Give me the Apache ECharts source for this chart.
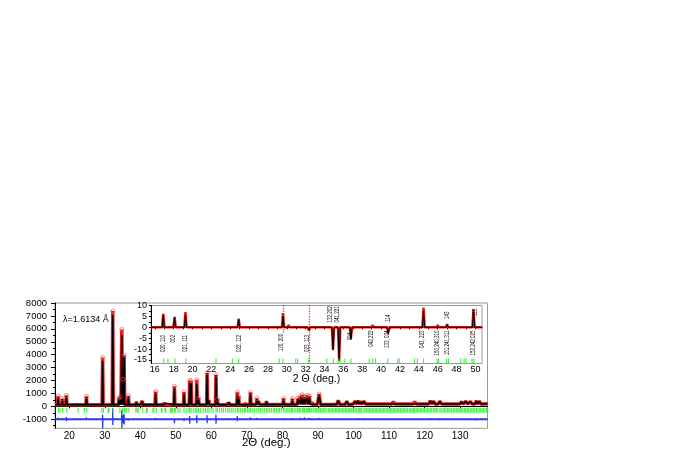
<!DOCTYPE html>
<html>
<head>
<meta charset="utf-8">
<title>rietveld</title>
<style>
  html, body { margin: 0; padding: 0; background: #fff; }
  #container { width: 699px; height: 459px; }
</style>
</head>
<body>
<div id="container"></div>
<script src="https://cdn.jsdelivr.net/npm/echarts@6.0.0/dist/echarts.min.js"></script>
<script type="text/javascript">
// ---- main pattern ----
// [2theta, I calc, I obs]
var mainPeaks = [
  [16.85, 700, 800], [17.4, 200, 230], [18.05, 560, 600], [19.2, 790, 850],
  [22.5, 160, 180], [24.85, 740, 780], [29.4, 3500, 3780], [31.0, 180, 200],
  [32.25, 7050, 7380], [34.0, 600, 650], [34.4, 700, 750], [34.8, 5500, 5950],
  [35.1, 2000, 2100], [35.45, 3850, 3950], [36.65, 780, 820], [38.9, 330, 380],
  [40.6, 380, 420], [44.3, 1060, 1150], [45.6, 200, 220], [46.6, 250, 280],
  [47.1, 250, 270], [49.6, 1460, 1550], [52.3, 1020, 1100], [53.9, 1950, 2000],
  [54.3, 1800, 1950], [55.9, 1700, 2050], [56.4, 600, 650], [58.8, 2550, 2600],
  [59.3, 450, 500], [61.3, 2400, 2450], [61.7, 500, 550], [64.6, 250, 300],
  [65.0, 300, 330], [67.3, 1000, 1080], [67.7, 700, 750], [69.6, 250, 280],
  [71.0, 1030, 1080], [72.8, 580, 620], [73.3, 400, 430], [75.5, 380, 420],
  [78.3, 280, 300], [80.3, 580, 620], [82.8, 560, 600], [84.3, 580, 620],
  [85.0, 720, 760], [85.6, 850, 900], [86.2, 700, 750], [87.0, 800, 850],
  [87.6, 750, 800], [88.3, 300, 330], [90.3, 900, 950], [92.9, 250, 270],
  [95.7, 430, 460], [98.1, 380, 400], [99.6, 250, 280], [100.4, 380, 400],
  [101.3, 420, 450], [101.9, 350, 380], [102.9, 380, 400], [106.5, 260, 280],
  [108.4, 280, 300], [111.2, 330, 350], [114.0, 240, 260], [115.7, 250, 270],
  [117.2, 330, 350], [121.6, 400, 430], [122.5, 380, 400], [124.3, 380, 400],
  [125.2, 300, 320], [128.1, 300, 320], [130.4, 340, 360], [131.6, 380, 400],
  [132.9, 350, 370], [134.6, 400, 420], [135.4, 380, 400]
];
var mainBackground = [[16, 120], [40, 120], [70, 150], [100, 180], [137.7, 200]];
// difference curve: [2theta, upper, lower]
var diffBase = -1000;
var mainDiff = [
  [16.85, -870, -1100], [18.05, -900, -1080], [19.2, -820, -1150], [21.0, -960, -1040],
  [24.85, -850, -1100], [27.0, -960, -1040], [29.4, -650, -1700], [32.25, -150, -1450],
  [34.8, -300, -1700], [35.1, -700, -1300], [35.45, -600, -1400], [36.65, -900, -1100],
  [40.6, -940, -1060], [44.3, -880, -1100], [47.0, -950, -1050], [49.6, -900, -1300],
  [52.3, -850, -1150], [53.9, -750, -1350], [55.9, -700, -1300], [58.8, -700, -1300],
  [61.3, -650, -1350], [64.6, -900, -1080], [67.3, -750, -1150], [69.6, -950, -1060],
  [71.0, -850, -1100], [72.8, -880, -1080], [75.5, -940, -1060], [78.3, -950, -1050],
  [80.3, -900, -1080], [82.8, -900, -1080], [85.0, -880, -1100], [86.2, -850, -1120],
  [87.6, -880, -1100], [90.3, -880, -1100], [92.9, -950, -1050], [95.7, -930, -1070],
  [98.1, -940, -1060], [101.3, -900, -1080], [102.9, -920, -1060], [106.5, -950, -1050],
  [108.4, -940, -1060], [111.2, -930, -1070], [114.0, -950, -1050], [117.2, -940, -1060],
  [121.6, -900, -1090], [124.3, -910, -1080], [128.1, -940, -1060], [130.4, -930, -1070],
  [132.9, -940, -1060], [134.6, -920, -1080]
];
var braggLevel = -300;
var mainReflections = [
  16.95, 17.4, 18.15, 19.3, 22.5, 24.25, 24.9, 29.2, 29.6, 30.95, 31.15, 32.3,
  34.25, 34.95, 35.45, 35.65, 36.15, 36.8, 38.75, 39.1, 39.4, 40.7, 41.75, 41.95,
  43.55, 43.85, 44.5, 45.95, 46.1, 46.95, 47.15, 48.45, 48.8, 49.0, 49.65, 49.85,
  50.6, 51.2, 52.3, 52.9, 53.5, 53.9, 54.3, 54.9, 55.5, 55.9, 56.4, 57.0, 57.7, 58.3,
  58.8, 59.3, 59.9, 60.5, 61.3, 61.7, 62.3, 62.9, 63.4, 64.0, 64.6, 65.0, 65.6, 66.1,
  66.7, 67.3, 67.7, 68.2, 68.8, 69.3, 69.6, 70.2, 70.6, 71.0, 71.5, 72.1, 72.8, 73.3,
  73.8, 74.3, 74.9, 75.5, 75.9, 76.4, 76.9, 77.4, 77.8, 78.3, 78.8, 79.2, 79.7, 80.3,
  80.7, 81.2, 81.6, 82.1, 82.5, 82.8, 83.3, 83.8, 84.3, 84.7, 85.0, 85.6, 86.0, 86.2,
  86.7, 87.0, 87.4, 87.6, 88.0, 88.3, 88.8, 89.2, 89.6, 90.0, 90.3, 90.7, 91.1, 91.5,
  91.9, 92.3, 92.9, 93.3, 93.7, 94.1, 94.5, 94.9, 95.3, 95.7, 96.1, 96.5, 96.9, 97.3,
  97.7, 98.1, 98.5, 98.9, 99.3, 99.6, 100.0, 100.4, 100.8, 101.3, 101.6, 101.9, 102.3,
  102.9, 103.3, 103.7, 104.1, 104.5, 104.9, 105.3, 105.7, 106.1, 106.5, 106.9, 107.3,
  107.7, 108.0, 108.4, 108.8, 109.2, 109.6, 110.0, 110.4, 110.8, 111.2, 111.6, 112.0,
  112.4, 112.8, 113.2, 113.6, 114.0, 114.4, 114.8, 115.2, 115.7, 116.1, 116.5, 116.9,
  117.2, 117.6, 118.0, 118.4, 118.8, 119.2, 119.6, 120.0, 120.4, 120.8, 121.2, 121.6,
  122.0, 122.5, 122.9, 123.3, 123.7, 124.3, 124.7, 125.2, 125.6, 126.0, 126.4, 126.8,
  127.2, 127.6, 128.1, 128.5, 128.9, 129.3, 129.7, 130.0, 130.4, 130.8, 131.2, 131.6,
  132.0, 132.4, 132.9, 133.3, 133.7, 134.1, 134.6, 135.0, 135.4, 135.8, 136.2, 136.6,
  137.0, 137.4
];
var mainXLabels = [20, 30, 40, 50, 60, 70, 80, 90, 100, 110, 120, 130];
var mainYLabels = [-1000, 0, 1000, 2000, 3000, 4000, 5000, 6000, 7000, 8000];
var mainYMinor = [-1500, -500, 500, 1500, 2500, 3500, 4500, 5500, 6500, 7500];

// ---- inset ----
// [2theta, calc, obs]
var insetPeaks = [
  [16.9, 5.5, 6.2], [18.1, 4.5, 4.8], [19.25, 5.5, 7.0], [24.9, 3.5, 4.0],
  [29.6, 5.0, 6.5], [30.2, 0.8, 1.0], [32.35, -1.2, -1.5], [34.9, -10.5, -10],
  [35.55, -15.5, -15], [36.8, -5.5, -5], [39.1, 0.8, 1.0], [40.75, -3.0, -2.5],
  [44.5, 7.5, 9.0], [46.0, 0.8, 1.0], [47.0, 1.3, 1.5], [49.8, 7.2, 8.2]
];
// outlier columns of observed points: [2theta, from, to]
var insetDotted = [[29.6, 10, -2.5], [32.35, 10, -16.6]];
var insetBraggLevel = -15.4;
var insetReflections = [
  16.95, 17.4, 18.15, 19.3, 22.5, 24.25, 24.9, 29.2, 29.6, 30.95, 31.15, 32.3,
  34.25, 34.95, 35.45, 35.65, 36.15, 36.8, 38.75, 39.1, 39.4, 40.7, 41.75, 41.95,
  43.55, 43.85, 44.5, 45.95, 46.1, 46.95, 47.15, 48.45, 48.8, 49.0, 49.65, 49.85
];
// [2theta, anchor y, text, 1 = above curve / 0 = below]
var insetLabels = [
  [16.9, -3.5, '020, 110', 0], [17.95, -3.5, '002', 0], [19.2, -3.5, '021, 111', 0],
  [24.9, -3.5, '022, 112', 0], [29.4, -3, '130, 200', 0], [32.1, -3.5, '023, 113', 0],
  [34.6, 2.2, '132,202', 1], [35.3, 2.2, '041,221', 1], [36.7, -2.5, '004', 0],
  [38.9, -1.5, '042,222', 0], [40.75, 2.5, '114', 1], [40.6, -1.5, '133, 024', 0],
  [44.35, -1.5, '043, 223', 0], [45.95, -1.5, '150,240,310', 0], [47.0, 3.8, '143', 1],
  [47.0, -1.5, '151,241,311', 0], [49.95, 5.3, '115', 1], [49.7, -1.5, '152,242,025', 0]
];
var insetXLabels = [16, 18, 20, 22, 24, 26, 28, 30, 32, 34, 36, 38, 40, 42, 44, 46, 48, 50];
var insetXTicks = [16, 17, 18, 19, 20, 21, 22, 23, 24, 25, 26, 27, 28, 29, 30, 31, 32, 33,
  34, 35, 36, 37, 38, 39, 40, 41, 42, 43, 44, 45, 46, 47, 48, 49, 50];
var insetYLabels = [-15, -10, -5, 0, 5, 10];
var insetYTicks = [-15, -12.5, -10, -7.5, -5, -2.5, 0, 2.5, 5, 7.5, 10];

var FONT = 'Liberation Sans';

function baseAt(x) {
  var b = mainBackground[0][1];
  mainBackground.forEach(function (k) { if (k[0] <= x) b = k[1]; });
  return b;
}
function byX(a, b) { return a[0] - b[0]; }
function plain(v) { return String(v); }

function mainProfile(col) {
  var pts = mainBackground.map(function (k) { return [k[0], k[1]]; });
  mainPeaks.forEach(function (p) {
    var hw = p[0] < 90 ? 0.15 : 0.45;
    var b = baseAt(p[0]);
    pts.push([p[0] - hw, b], [p[0], p[col]], [p[0] + hw, b]);
  });
  return pts.sort(byX);
}
// each residual feature as its own short segment, separated by gaps
function diffSpikes() {
  var pts = [];
  mainDiff.forEach(function (d) {
    pts.push([d[0] - 0.05, diffBase], [d[0] - 0.02, d[1]], [d[0] + 0.02, d[2]], [d[0] + 0.05, diffBase], [d[0] + 0.06, '-']);
  });
  return pts;
}
function insetProfile(col) {
  var pts = [[15.6, 0], [50.7, 0]];
  insetPeaks.forEach(function (p) {
    pts.push([p[0] - 0.12, 0], [p[0], p[col]], [p[0] + 0.12, 0]);
  });
  return pts.sort(byX);
}

var dom = document.getElementById('container');
var myChart = echarts.init(dom, null, { renderer: 'canvas' });

var axisBlack = { show: true, lineStyle: { color: '#000', width: 1 } };

var option = {
  backgroundColor: '#fff',
  animation: false,
  title: {
    text: 'λ=1.6134 Å',
    left: 58, top: 310,
    textStyle: { fontFamily: FONT, fontSize: 9, fontWeight: 'normal', color: '#000' }
  },
  grid: [
    { left: 55, top: 303, width: 432.5, height: 125.3, show: true, borderColor: '#999',
      borderWidth: 1, backgroundColor: '#fff', outerBoundsMode: 'none', containLabel: false },
    { left: 151, top: 305.5, width: 331, height: 58, show: true, borderColor: '#999',
      borderWidth: 1, backgroundColor: '#fff', outerBoundsMode: 'none', containLabel: false }
  ],
  xAxis: [
    {
      type: 'value', gridIndex: 0, min: 16, max: 137.7,
      axisLine: axisBlack, splitLine: { show: false },
      axisTick: { customValues: mainXLabels, length: 2, lineStyle: { color: '#000' } },
      axisLabel: { customValues: mainXLabels, formatter: plain, margin: 3, fontFamily: FONT, fontSize: 10, color: '#000' },
      name: '2Θ (deg.)', nameLocation: 'middle', nameGap: 8.5, nameMoveOverlap: false,
      nameTextStyle: { fontFamily: FONT, fontSize: 11.5, color: '#000', verticalAlign: 'top', padding: [0, 10, 0, 0] }
    },
    {
      type: 'value', gridIndex: 1, min: 15.6, max: 50.7,
      axisLine: axisBlack, splitLine: { show: false },
      axisTick: { customValues: insetXTicks, length: 2, lineStyle: { color: '#000' } },
      axisLabel: { customValues: insetXLabels, formatter: plain, margin: 2, fontFamily: FONT, fontSize: 9, color: '#000' },
      name: '2 Θ (deg.)', nameLocation: 'middle', nameGap: 10, nameMoveOverlap: false,
      nameTextStyle: { fontFamily: FONT, fontSize: 10.5, color: '#000', verticalAlign: 'top' }
    }
  ],
  yAxis: [
    {
      type: 'value', gridIndex: 0, min: -1700, max: 8000,
      axisLine: axisBlack, splitLine: { show: false },
      axisTick: { customValues: mainYLabels, length: 4, lineStyle: { color: '#000' } },
      axisLabel: { customValues: mainYLabels, formatter: plain, margin: 8, fontFamily: FONT, fontSize: 9.5, color: '#000' }
    },
    {
      type: 'value', gridIndex: 0, min: -1700, max: 8000, position: 'left',
      axisLine: { show: false }, splitLine: { show: false },
      axisTick: { customValues: mainYMinor, length: 2, lineStyle: { color: '#000' } },
      axisLabel: { show: false }
    },
    {
      type: 'value', gridIndex: 1, min: -16.6, max: 10,
      axisLine: axisBlack, splitLine: { show: false },
      axisTick: { customValues: insetYTicks, length: 2, lineStyle: { color: '#000' } },
      axisLabel: { customValues: insetYLabels, formatter: plain, margin: 4, fontFamily: FONT, fontSize: 9, color: '#000' }
    }
  ],
  series: [
    {
      name: 'diff base', type: 'line', xAxisIndex: 0, yAxisIndex: 0,
      data: [[16, diffBase], [137.7, diffBase]],
      symbol: 'none', z: 3, lineStyle: { color: '#2a36ff', width: 2.2 }
    },
    {
      name: 'diff', type: 'line', xAxisIndex: 0, yAxisIndex: 0, data: diffSpikes(),
      symbol: 'none', z: 3, connectNulls: false, lineStyle: { color: '#2a36ff', width: 1.3 }
    },
    {
      name: 'obs', type: 'line', xAxisIndex: 0, yAxisIndex: 0, data: mainProfile(2),
      symbol: 'none', z: 2, lineStyle: { color: '#e01a1a', width: 3.5 }
    },
    {
      name: 'calc', type: 'line', xAxisIndex: 0, yAxisIndex: 0, data: mainProfile(1),
      symbol: 'none', z: 3, lineStyle: { color: '#000', width: 1.5 }
    },
    {
      name: 'obs points', type: 'scatter', xAxisIndex: 0, yAxisIndex: 0, z: 4,
      data: mainPeaks.filter(function (p) { return p[2] > 500; }).map(function (p) { return [p[0], p[2]]; }),
      symbol: 'circle', symbolSize: 4,
      itemStyle: { color: 'rgba(255,255,255,0)', borderColor: 'rgba(255,70,70,0.8)', borderWidth: 1 }
    },
    {
      name: 'bragg', type: 'scatter', xAxisIndex: 0, yAxisIndex: 0, z: 3,
      data: mainReflections.map(function (x) { return [x, braggLevel]; }),
      symbol: 'rect', symbolSize: [1.2, 5], itemStyle: { color: '#22ee22' }
    },
    {
      name: 'inset obs', type: 'line', xAxisIndex: 1, yAxisIndex: 2, data: insetProfile(2),
      symbol: 'none', z: 5, lineStyle: { color: '#e01a1a', width: 2.5 },
      markLine: {
        silent: true, symbol: 'none', label: { show: false },
        lineStyle: { type: 'dotted', color: '#ff3030', width: 1.3 },
        data: insetDotted.map(function (d) { return [{ coord: [d[0], d[1]] }, { coord: [d[0], d[2]] }]; })
      }
    },
    {
      name: 'inset calc', type: 'line', xAxisIndex: 1, yAxisIndex: 2, data: insetProfile(1),
      symbol: 'none', z: 6, lineStyle: { color: '#000', width: 1 }
    },
    {
      name: 'inset bragg', type: 'scatter', xAxisIndex: 1, yAxisIndex: 2, z: 6,
      data: insetReflections.map(function (x) { return [x, insetBraggLevel]; }),
      symbol: 'rect', symbolSize: [1.2, 5], itemStyle: { color: '#22ee22' }
    },
    {
      name: 'hkl', type: 'custom', xAxisIndex: 1, yAxisIndex: 2, z: 7,
      data: insetLabels.map(function (l) { return [l[0], l[1], l[3]]; }),
      encode: { x: 0, y: 1 },
      renderItem: function (params, api) {
        var p = api.coord([api.value(0), api.value(1)]);
        var above = api.value(2) === 1;
        return {
          type: 'text', x: p[0], y: p[1], rotation: Math.PI / 2, scaleX: 0.56,
          style: {
            text: insetLabels[params.dataIndex][2], font: '8px "' + FONT + '"', fill: '#000',
            align: above ? 'left' : 'right', verticalAlign: 'middle'
          }
        };
      }
    }
  ]
};
myChart.setOption(option);
</script>
</body>
</html>
